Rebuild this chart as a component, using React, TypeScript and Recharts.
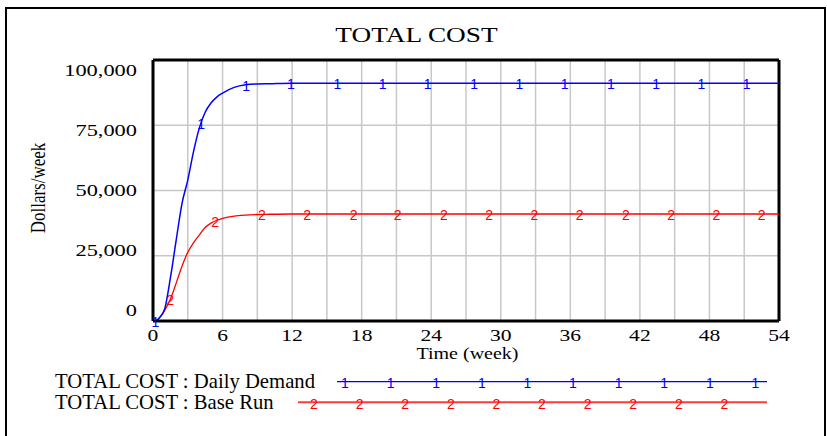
import {
  ComposedChart,
  Line,
  Scatter,
  XAxis,
  YAxis,
  CartesianGrid,
  ReferenceLine,
} from "recharts";

// simulation time (weeks) and the two runs of TOTAL COST (Dollars/week)
const weeks = [0, 0.25, 0.5, 1, 1.5, 2, 2.5, 3, 3.5, 4, 4.5, 5, 5.5, 6, 7, 8, 9, 10, 12, 54];
const dailyDemand = [
  0, 0, 1000, 4500, 16500, 31000, 45000, 54000, 65000, 74000, 80000, 83500, 85800, 87300,
  89500, 90500, 90800, 90900, 91100, 91100,
];
const baseRun = [
  0, 0, 1000, 4000, 8400, 14500, 21000, 26300, 30000, 33000, 35800, 37500, 38600, 39300,
  40200, 40600, 40800, 40900, 41000, 41000,
];

// line markers ("1" / "2") as drawn by the simulator
const demandMarkWeeks = [0.2, 4.16, 8.03, 11.9, 15.9, 19.8, 23.7, 27.7, 31.6, 35.5, 39.5, 43.4, 47.3, 51.2];
const demandMarkValues = [
  0, 76000, 90500, 91000, 91100, 91100, 91100, 91100, 91100, 91100, 91100, 91100, 91100, 91100,
];
const baseMarkWeeks = [1.49, 5.37, 9.4, 13.3, 17.3, 21.1, 25.1, 29.0, 32.9, 36.8, 40.8, 44.7, 48.6, 52.5];
const baseMarkValues = [
  8400, 38300, 40850, 41000, 41000, 41000, 41000, 41000, 41000, 41000, 41000, 41000, 41000, 41000,
];

const xTicks = [0, 3, 6, 9, 12, 15, 18, 21, 24, 27, 30, 33, 36, 39, 42, 45, 48, 51, 54];
const yTicks = [0, 25000, 50000, 75000, 100000];

const demandData = weeks.map((t, i) => ({ t, v: dailyDemand[i] }));
const baseData = weeks.map((t, i) => ({ t, v: baseRun[i] }));
const demandMarks = demandMarkWeeks.map((t, i) => ({ t, v: demandMarkValues[i] }));
const baseMarks = baseMarkWeeks.map((t, i) => ({ t, v: baseMarkValues[i] }));

const SERIF = "'Liberation Serif', 'Times New Roman', serif";
const SANS = "'Liberation Sans', Arial, sans-serif";
const BLUE = "#0000ff";
const RED = "#ff0000";
const PLOT_MID_Y = 190;

const XTick = (props: any) => {
  const { x, y, payload } = props;
  if (payload.value % 6 !== 0) return <g />;
  return (
    <g transform={`translate(${x},${y + 12}) scale(1.35,1)`}>
      <text textAnchor="middle" fontFamily={SERIF} fontSize={16} fill="#000">
        {payload.value}
      </text>
    </g>
  );
};

const YTick = (props: any) => {
  const { x, y, payload } = props;
  // labels sit a little closer together than the grid lines
  const cy = PLOT_MID_Y + 0.92 * (y - PLOT_MID_Y);
  return (
    <g transform={`translate(${x - 8},${cy + 5.5}) scale(1.4,1)`}>
      <text textAnchor="end" fontFamily={SERIF} fontSize={16} fill="#000">
        {Number(payload.value).toLocaleString("en-US")}
      </text>
    </g>
  );
};

const mark = (label: string, color: string) => (props: any) => (
  <text
    x={props.cx}
    y={props.cy + 1}
    textAnchor="middle"
    dominantBaseline="central"
    fontFamily={SANS}
    fontSize={14}
    fill={color}
  >
    {label}
  </text>
);

export default function App() {
  const legendBlue = Array.from({ length: 10 }, (_, i) => 345 + i * 45.6);
  const legendRed = Array.from({ length: 10 }, (_, i) => 314 + i * 45.6);

  return (
    <div style={{ position: "absolute", left: 0, top: 0, width: 827, height: 436 }}>
      <div
        style={{
          position: "absolute",
          left: 5,
          top: 7,
          width: 821,
          height: 429,
          border: "2px solid #000",
          borderBottom: "none",
          boxSizing: "border-box",
        }}
      />
      <div style={{ position: "absolute", left: 0, top: 0 }}>
        <ComposedChart width={827} height={436} margin={{ top: 60, right: 48, bottom: 85, left: 0 }}>
          <CartesianGrid stroke="#c8c8c8" strokeWidth={1.5} />
          <XAxis
            dataKey="t"
            type="number"
            domain={[0, 54]}
            ticks={xTicks}
            interval={0}
            height={30}
            tickLine={false}
            axisLine={{ stroke: "#000", strokeWidth: 3 }}
            tick={<XTick />}
          />
          <YAxis
            type="number"
            domain={[0, 100000]}
            ticks={yTicks}
            interval={0}
            width={153}
            tickLine={false}
            axisLine={{ stroke: "#000", strokeWidth: 3 }}
            tick={<YTick />}
          />
          <ReferenceLine y={100000} stroke="#000" strokeWidth={3} />
          <ReferenceLine x={54} stroke="#000" strokeWidth={3} />
          <Line
            data={baseData}
            dataKey="v"
            type="monotone"
            stroke={RED}
            strokeWidth={1.3}
            dot={false}
            isAnimationActive={false}
          />
          <Line
            data={demandData}
            dataKey="v"
            type="monotone"
            stroke={BLUE}
            strokeWidth={1.5}
            dot={false}
            isAnimationActive={false}
          />
          <Scatter data={baseMarks} dataKey="v" shape={mark("2", RED)} isAnimationActive={false} />
          <Scatter data={demandMarks} dataKey="v" shape={mark("1", BLUE)} isAnimationActive={false} />
        </ComposedChart>
      </div>
      <svg
        width={827}
        height={436}
        style={{ position: "absolute", left: 0, top: 0, pointerEvents: "none" }}
      >
        <g transform="translate(416.5,42) scale(1.3,1)">
          <text textAnchor="middle" fontFamily={SERIF} fontSize={21} fill="#000">
            TOTAL COST
          </text>
        </g>
        <g transform="translate(467.5,359) scale(1.25,1)">
          <text textAnchor="middle" fontFamily={SERIF} fontSize={16} fill="#000">
            Time (week)
          </text>
        </g>
        <g transform="translate(45,188) scale(1.2,1) rotate(-90)">
          <text textAnchor="middle" fontFamily={SERIF} fontSize={17} fill="#000">
            Dollars/week
          </text>
        </g>

        <g transform="translate(55,388) scale(1.035,1)">
          <text fontFamily={SERIF} fontSize={20} fill="#000">
            TOTAL COST : Daily Demand
          </text>
        </g>
        <line x1={337} x2={767} y1={381.7} y2={381.7} stroke={BLUE} strokeWidth={1.3} />
        {legendBlue.map((lx) => (
          <text
            key={lx}
            x={lx}
            y={383}
            textAnchor="middle"
            dominantBaseline="central"
            fontFamily={SANS}
            fontSize={14}
            fill={BLUE}
          >
            1
          </text>
        ))}

        <g transform="translate(55,409) scale(1.035,1)">
          <text fontFamily={SERIF} fontSize={20} fill="#000">
            TOTAL COST : Base Run
          </text>
        </g>
        <line x1={298} x2={767} y1={402.3} y2={402.3} stroke="#ff3b3b" strokeWidth={2} />
        {legendRed.map((lx) => (
          <text
            key={lx}
            x={lx}
            y={404}
            textAnchor="middle"
            dominantBaseline="central"
            fontFamily={SANS}
            fontSize={14}
            fill={RED}
          >
            2
          </text>
        ))}
      </svg>
    </div>
  );
}
